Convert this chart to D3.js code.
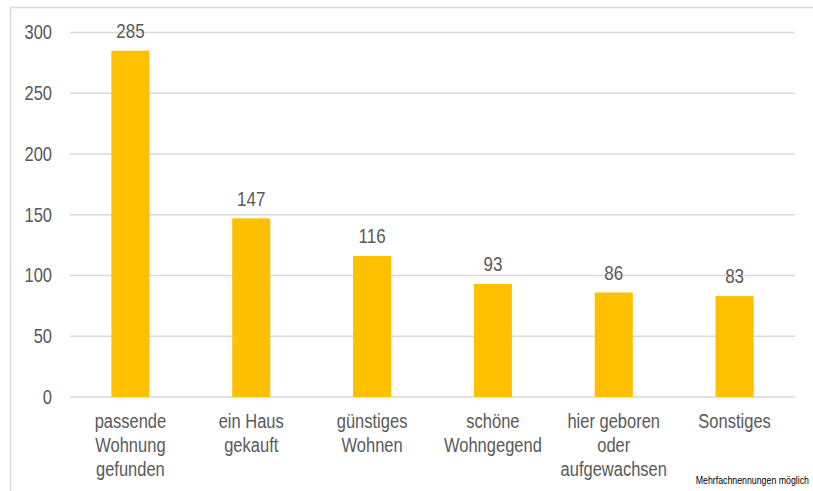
<!DOCTYPE html>
<meta charset="utf-8">
<style>
  body { margin: 0; background: #fff; }
  text { font-family: "Liberation Sans", Arial, sans-serif; fill: #595959; }
  .stretch { transform-box: fill-box; transform-origin: center; transform: scaleY(1.2); }
</style>
<body>
<script src="https://cdn.jsdelivr.net/npm/d3@7"></script>
<script>

// data
var categories = [
  ["passende", "Wohnung", "gefunden"],
  ["ein Haus", "gekauft"],
  ["günstiges", "Wohnen"],
  ["schöne", "Wohngegend"],
  ["hier geboren", "oder", "aufgewachsen"],
  ["Sonstiges"]
];
var values = [285, 147, 116, 93, 86, 83];
var yTicks = [0, 50, 100, 150, 200, 250, 300];
var footnote = "Mehrfachnennungen möglich";

var W = 813, H = 491;
var margin = {top: 32.5, right: 18, bottom: 94, left: 70},
    width = W - margin.left - margin.right,
    height = H - margin.top - margin.bottom;

var svg = d3.select("body").append("svg")
    .attr("width", W)
    .attr("height", H);

// chart frame
svg.append("rect")
    .attr("x", 10.5).attr("y", 7.5)
    .attr("width", 830).attr("height", 520)
    .attr("fill", "none")
    .attr("stroke", "#d9d9d9")
    .attr("stroke-width", 1.5);

var g = svg.append("g")
    .attr("transform", "translate(" + margin.left + "," + margin.top + ")");

var x = d3.scaleBand()
    .domain(d3.range(categories.length))
    .range([0, width])
    .paddingInner(0.685)
    .paddingOuter(0.3425);

var y = d3.scaleLinear()
    .domain([0, 300])
    .range([height, 0]);

// gridlines
g.selectAll(".grid")
    .data(yTicks)
  .enter().append("line")
    .attr("x1", 0).attr("x2", width)
    .attr("y1", function(d) { return y(d); })
    .attr("y2", function(d) { return y(d); })
    .attr("stroke", "#d9d9d9")
    .attr("stroke-width", 1.6);

// y axis labels
var yAxis = g.append("g")
    .call(d3.axisLeft(y).tickValues(yTicks).tickSize(0).tickPadding(18));
yAxis.select(".domain").remove();
yAxis.selectAll("text")
    .attr("class", "stretch")
    .style("font-size", "16.5px")
    .style("font-family", "'Liberation Sans', Arial, sans-serif")
    .attr("fill", "#595959");

// bars
g.selectAll(".bar")
    .data(values)
  .enter().append("rect")
    .attr("class", "bar")
    .attr("x", function(d, i) { return x(i); })
    .attr("width", x.bandwidth())
    .attr("y", function(d) { return y(d); })
    .attr("height", function(d) { return height - y(d); })
    .attr("fill", "#ffc000");

// value labels
g.selectAll(".val")
    .data(values)
  .enter().append("text")
    .attr("class", "val stretch")
    .attr("x", function(d, i) { return x(i) + x.bandwidth() / 2; })
    .attr("y", function(d) { return y(d) - 14; })
    .attr("text-anchor", "middle")
    .style("font-size", "17px")
    .text(function(d) { return d; });

// category labels, one text per line
categories.forEach(function(lines, i) {
  lines.forEach(function(line, j) {
    g.append("text")
      .attr("class", "stretch")
      .attr("x", x(i) + x.bandwidth() / 2)
      .attr("y", height + 30 + j * 24)
      .attr("text-anchor", "middle")
      .style("font-size", "16.5px")
      .text(line);
  });
});

// footnote
svg.append("text")
    .attr("class", "stretch")
    .attr("x", 809)
    .attr("y", 483)
    .attr("text-anchor", "end")
    .style("font-size", "8.8px")
    .style("fill", "#000")
    .text(footnote);

</script>
</body>
